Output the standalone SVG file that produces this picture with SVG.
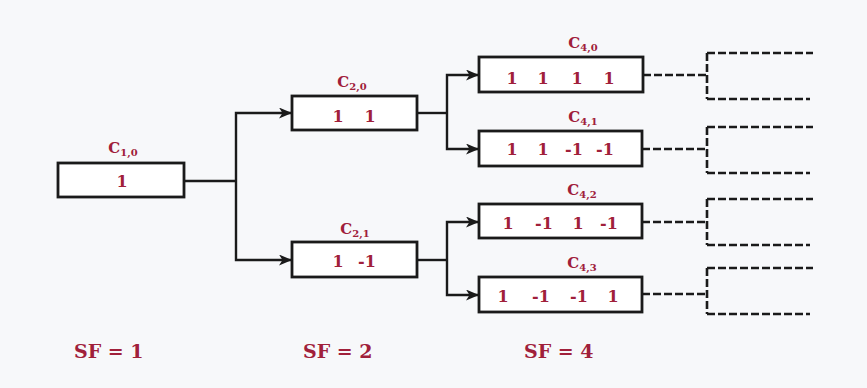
<svg xmlns="http://www.w3.org/2000/svg" width="867" height="388" viewBox="0 0 867 388">
<defs>
<style>
.box{fill:#ffffff;stroke:#1a1a1a;stroke-width:2.8}
.lbl{font-family:"DejaVu Serif","Liberation Serif",serif;font-weight:bold;fill:#a0203a;text-anchor:middle}
.c{font-size:15px}
.sub{font-size:10px}
.v{font-size:16px}
.sf{font-family:"DejaVu Serif","Liberation Serif",serif;font-weight:bold;fill:#a0203a;font-size:19px}
.ln{fill:none;stroke:#1a1a1a;stroke-width:2.4}
.dash{fill:none;stroke:#1a1a1a;stroke-width:2.6;stroke-dasharray:8 3}
</style>
<marker id="arr" viewBox="0 0 13 11" refX="13" refY="5.5" markerWidth="13" markerHeight="11" markerUnits="userSpaceOnUse" orient="auto">
<path d="M0,0 L13,5.5 L0,11 L3.5,5.5 z" fill="#1a1a1a"/>
</marker>
</defs>
<rect width="867" height="388" fill="#f7f8fa"/>

<g id="connectors">
<path class="ln" d="M184,181 H236"/>
<path class="ln" d="M236,181 V113 H292" marker-end="url(#arr)"/>
<path class="ln" d="M236,181 V260 H292" marker-end="url(#arr)"/>
<path class="ln" d="M417,113 H447"/>
<path class="ln" d="M447,113 V75 H479" marker-end="url(#arr)"/>
<path class="ln" d="M447,113 V149 H479" marker-end="url(#arr)"/>
<path class="ln" d="M417,260 H447"/>
<path class="ln" d="M447,260 V222 H479" marker-end="url(#arr)"/>
<path class="ln" d="M447,260 V295 H479" marker-end="url(#arr)"/>
<path class="dash" d="M643,75 H707 M707,53 V99 M707,53 H813 M707,99 H810"/>
<path class="dash" d="M642,149 H707 M707,127 V173 M707,127 H813 M707,173 H810"/>
<path class="dash" d="M642,222 H707 M707,199 V245 M707,199 H813 M707,245 H810"/>
<path class="dash" d="M642,294 H707 M707,268 V314 M707,268 H813 M707,314 H810"/>
</g>

<g id="C10">
<rect class="box" x="58" y="163" width="126" height="34"/>
<text class="lbl c" x="123" y="153">C<tspan class="sub" dy="3">1,0</tspan></text>
<text class="lbl v" x="122" y="187">1</text>
</g>

<g id="C20">
<rect class="box" x="292" y="96" width="125" height="34"/>
<text class="lbl c" x="352" y="87">C<tspan class="sub" dy="3">2,0</tspan></text>
<text class="lbl v" x="338" y="122">1</text>
<text class="lbl v" x="370" y="122">1</text>
</g>

<g id="C21">
<rect class="box" x="292" y="242" width="125" height="35"/>
<text class="lbl c" x="355" y="234">C<tspan class="sub" dy="3">2,1</tspan></text>
<text class="lbl v" x="338" y="267">1</text>
<text class="lbl v" x="367" y="267">-1</text>
</g>

<g id="C40">
<rect class="box" x="479" y="57" width="164" height="35"/>
<text class="lbl c" x="583" y="48">C<tspan class="sub" dy="3">4,0</tspan></text>
<text class="lbl v" x="512" y="84">1</text>
<text class="lbl v" x="543" y="84">1</text>
<text class="lbl v" x="577" y="84">1</text>
<text class="lbl v" x="609" y="84">1</text>
</g>

<g id="C41">
<rect class="box" x="479" y="131" width="163" height="35"/>
<text class="lbl c" x="583" y="122">C<tspan class="sub" dy="3">4,1</tspan></text>
<text class="lbl v" x="512" y="155">1</text>
<text class="lbl v" x="543" y="155">1</text>
<text class="lbl v" x="574" y="155">-1</text>
<text class="lbl v" x="605" y="155">-1</text>
</g>

<g id="C42">
<rect class="box" x="479" y="204" width="163" height="34"/>
<text class="lbl c" x="582" y="195">C<tspan class="sub" dy="3">4,2</tspan></text>
<text class="lbl v" x="508" y="229">1</text>
<text class="lbl v" x="544" y="229">-1</text>
<text class="lbl v" x="578" y="229">1</text>
<text class="lbl v" x="609" y="229">-1</text>
</g>

<g id="C43">
<rect class="box" x="479" y="277" width="163" height="35"/>
<text class="lbl c" x="582" y="268">C<tspan class="sub" dy="3">4,3</tspan></text>
<text class="lbl v" x="503" y="302">1</text>
<text class="lbl v" x="541" y="302">-1</text>
<text class="lbl v" x="579" y="302">-1</text>
<text class="lbl v" x="613" y="302">1</text>
</g>

<g id="sf-labels">
<text class="sf" x="74" y="358">SF = 1</text>
<text class="sf" x="303" y="358">SF = 2</text>
<text class="sf" x="524" y="358">SF = 4</text>
</g>
</svg>
